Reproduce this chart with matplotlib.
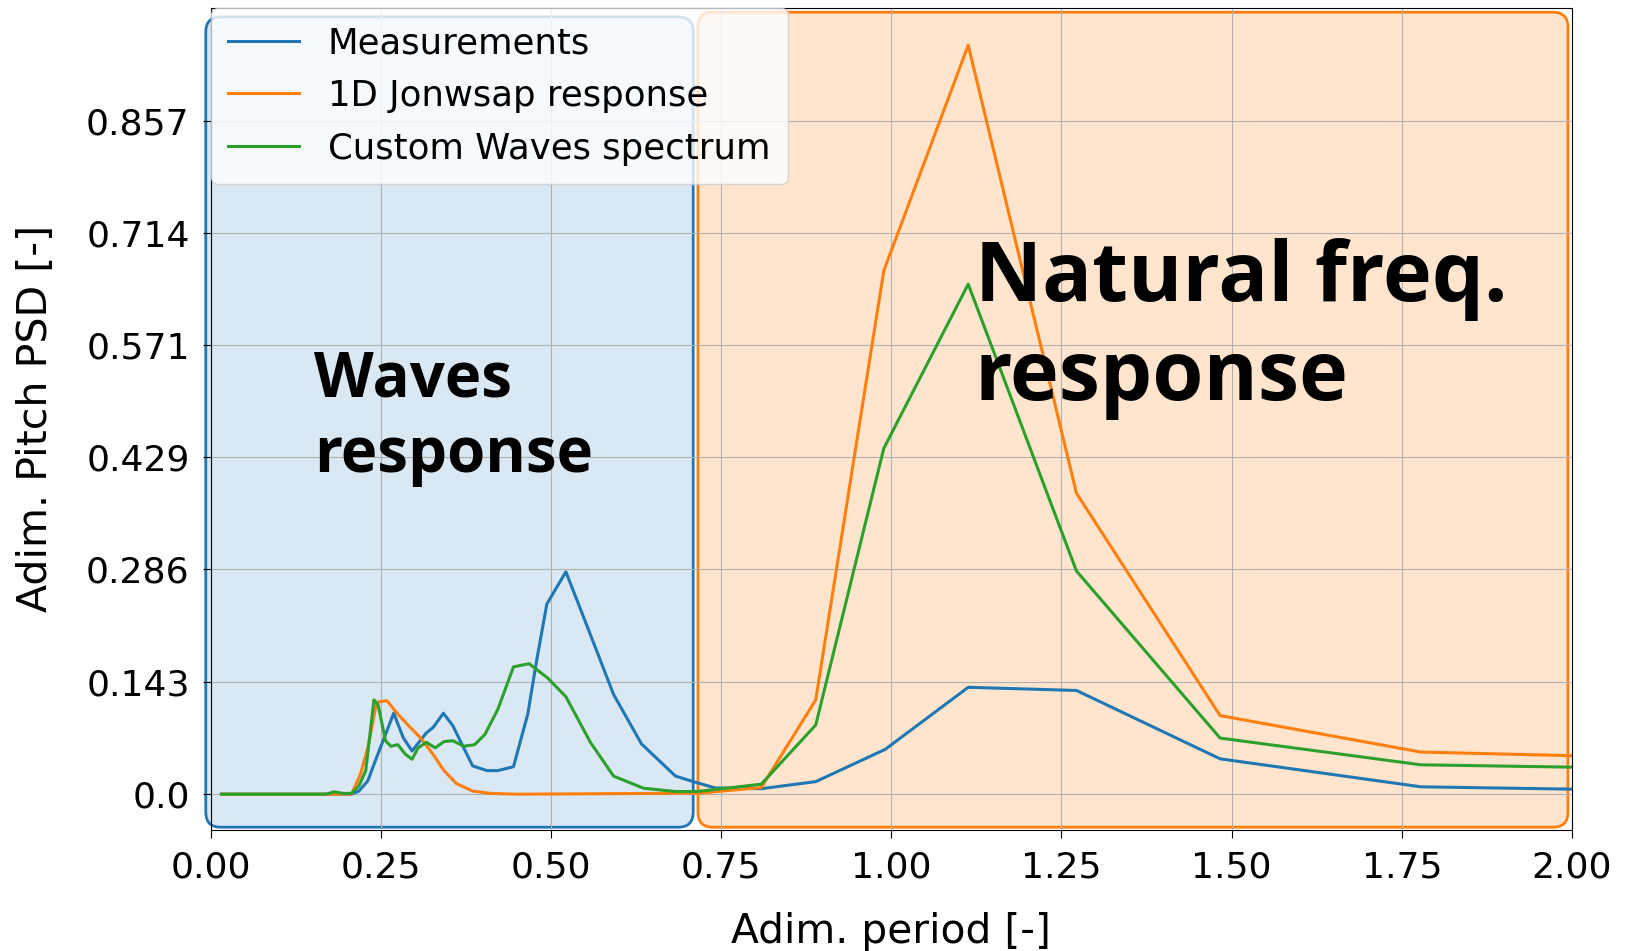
import numpy as np
import matplotlib.pyplot as plt
from matplotlib.patches import FancyBboxPatch

# period [-] and pitch PSD [-]
x_meas = [0.016, 0.207, 0.218, 0.231, 0.244, 0.257, 0.269, 0.283, 0.296, 0.317,
          0.327, 0.342, 0.356, 0.369, 0.385, 0.406, 0.422, 0.445, 0.466, 0.479,
          0.494, 0.522, 0.558, 0.592, 0.633, 0.683, 0.709, 0.741, 0.809, 0.889,
          0.991, 1.113, 1.272, 1.483, 1.778, 2.0]
y_meas = [0.0, 0.0, 0.004, 0.017, 0.047, 0.076, 0.103, 0.072, 0.055, 0.078,
          0.085, 0.103, 0.087, 0.064, 0.036, 0.030, 0.030, 0.035, 0.102, 0.170,
          0.242, 0.283, 0.203, 0.127, 0.064, 0.023, 0.016, 0.008, 0.007, 0.016,
          0.057, 0.136, 0.132, 0.045, 0.0094, 0.0064]

x_jon = [0.016, 0.207, 0.220, 0.231, 0.244, 0.259, 0.275, 0.291, 0.306, 0.325,
         0.343, 0.361, 0.385, 0.411, 0.45, 0.718, 0.809, 0.889, 0.989, 1.113,
         1.272, 1.483, 1.778, 2.0]
y_jon = [0.0, 0.0, 0.025, 0.059, 0.117, 0.119, 0.102, 0.087, 0.074, 0.053,
         0.030, 0.0136, 0.004, 0.001, 0.0, 0.0013, 0.0085, 0.12, 0.666, 0.953,
         0.383, 0.100, 0.0536, 0.049]

x_cws = [0.016, 0.170, 0.181, 0.195, 0.207, 0.218, 0.228, 0.240, 0.246, 0.257,
         0.265, 0.275, 0.286, 0.296, 0.305, 0.317, 0.330, 0.343, 0.356, 0.372,
         0.388, 0.403, 0.422, 0.445, 0.468, 0.495, 0.522, 0.558, 0.592, 0.636,
         0.683, 0.714, 0.772, 0.809, 0.889, 0.989, 1.113, 1.272, 1.483, 1.778,
         2.0]
y_cws = [0.0, 0.0, 0.003, 0.001, 0.001, 0.0106, 0.030, 0.120, 0.114, 0.068,
         0.061, 0.063, 0.051, 0.0445, 0.059, 0.066, 0.059, 0.067, 0.068, 0.061,
         0.063, 0.076, 0.108, 0.162, 0.166, 0.148, 0.124, 0.066, 0.023, 0.0076,
         0.0034, 0.0034, 0.009, 0.0128, 0.088, 0.44, 0.649, 0.284, 0.0714, 0.0374,
         0.0344]

labels = ["Measurements", "1D Jonwsap response", "Custom Waves spectrum"]
xticks = [0.0, 0.25, 0.5, 0.75, 1.0, 1.25, 1.5, 1.75, 2.0]
yticks = [0.0, 0.143, 0.286, 0.429, 0.571, 0.714, 0.857]

fig = plt.figure(figsize=(16.26, 9.51), dpi=100)
ax = fig.add_axes([0.1295, 0.1277, 0.8373, 0.8636])

# shaded regions (x0, y0, x1, y1)
aspect = (1.045 / 821) / (2.0 / 1362)
regions = [((-0.007, -0.042, 0.709, 0.989), "tab:blue", 0.17),
           ((0.716, -0.042, 1.994, 0.995), "tab:orange", 0.2)]
for (x0, y0, x1, y1), col, a in regions:
    face = plt.matplotlib.colors.to_rgba(col, a)
    box = FancyBboxPatch((x0, y0), x1 - x0, y1 - y0,
                         boxstyle="round,pad=0,rounding_size=0.022",
                         mutation_aspect=aspect, facecolor=face,
                         edgecolor=col, lw=2.0, clip_on=False, zorder=1)
    ax.add_patch(box)

ax.plot(x_meas, y_meas, color="tab:blue", lw=2.2, label=labels[0])
ax.plot(x_jon, y_jon, color="tab:orange", lw=2.2, label=labels[1])
ax.plot(x_cws, y_cws, color="tab:green", lw=2.2, label=labels[2])

# baseline of the last line
ax.text(0.152, 0.4095, "Waves\nresponse", fontsize=44.5, fontweight="bold",
        family="Open Sans", va="baseline", ha="left", linespacing=1.27)
ax.text(1.1226, 0.5017, "Natural freq.\nresponse", fontsize=59.5, fontweight="bold",
        family="Open Sans", va="baseline", ha="left", linespacing=1.245)

ax.set_xlim(0, 2)
ax.set_ylim(-0.045, 1.0)
ax.set_xticks(xticks)
ax.set_yticks(yticks)
ax.set_yticklabels([str(t) for t in yticks])
ax.tick_params(labelsize=26, length=6, pad=9)
ax.set_xlabel("Adim. period [-]", fontsize=29.3, labelpad=20)
ax.set_ylabel("Adim. Pitch PSD [-]", fontsize=29.6, labelpad=22)
ax.grid(True)
ax.legend(loc="upper left", fontsize=25.6, borderaxespad=0.0,
          borderpad=0.5, labelspacing=0.53)

fig.savefig("out.png", dpi=100)
